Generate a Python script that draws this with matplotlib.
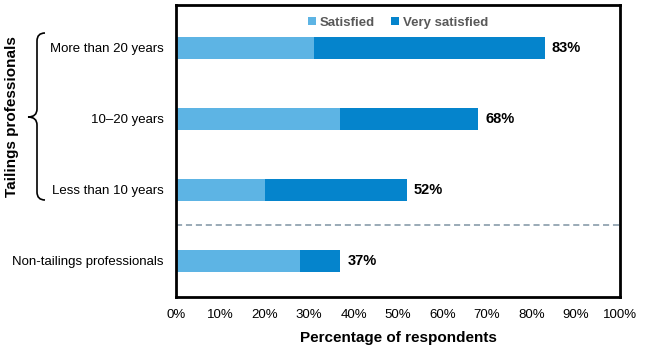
import matplotlib
matplotlib.use('Agg')
import matplotlib.pyplot as plt
from matplotlib.path import Path
from matplotlib.patches import PathPatch
from matplotlib.ticker import PercentFormatter

plt.rcParams['font.family'] = ['Liberation Sans', 'DejaVu Sans']

# data
groups = ['More than 20 years', '10\u201320 years', 'Less than 10 years', 'Non-tailings professionals']
satisfied = [31, 37, 20, 28]
very_satisfied = [52, 31, 32, 9]
totals = [83, 68, 52, 37]

light = '#5db4e4'
dark = '#0584cc'

W, H = 650, 355
fig = plt.figure(figsize=(6.5, 3.55), dpi=100)
ax = fig.add_axes([176 / W, 1 - 297 / H, (620 - 176) / W, (297 - 5) / H])

pos = list(range(len(groups)))
ax.barh(pos, satisfied, height=0.31, color=light, label='Satisfied')
ax.barh(pos, very_satisfied, left=satisfied, height=0.31, color=dark, label='Very satisfied')

for p, t in zip(pos, totals):
    ax.text(t + 1.6, p, f'{t}%', va='center', ha='left', fontsize=10.5, fontweight='bold')

ax.axhline(2.5, color='#7f93a3', lw=1.1, ls=(0, (4, 2.5)))

ax.set_xlim(0, 100)
ax.set_ylim(3.51, -0.6)
ax.set_xticks(range(0, 101, 10))
ax.xaxis.set_major_formatter(PercentFormatter(decimals=0))
ax.set_yticks(pos)
ax.set_yticklabels(groups)
ax.tick_params(length=0, labelsize=9.5, pad=9)
ax.tick_params(axis='x', pad=9)
for s in ax.spines.values():
    s.set_linewidth(2)
ax.set_xlabel('Percentage of respondents', fontsize=11, fontweight='bold', labelpad=7)

leg = ax.legend(loc='upper center', ncol=2, frameon=False, handlelength=0.6,
                handleheight=0.6, handletextpad=0.3, columnspacing=1.2, bbox_to_anchor=(0.5, 1.0),
                prop={'size': 9.5, 'weight': 'bold'})
for t in leg.get_texts():
    t.set_color('#595959')

# brace for the tailings group, drawn in pixel coords
def px(x, y):
    return (x / W, 1 - y / H)

verts = [px(45, 33), px(37, 33), px(37, 41), px(37, 109), px(37, 117), px(28, 117),
         px(37, 117), px(37, 125), px(37, 192), px(37, 200), px(45, 200)]
codes = [Path.MOVETO, Path.CURVE3, Path.CURVE3, Path.LINETO, Path.CURVE3, Path.CURVE3,
         Path.CURVE3, Path.CURVE3, Path.LINETO, Path.CURVE3, Path.CURVE3]
fig.patches.append(PathPatch(Path(verts, codes), transform=fig.transFigure,
                             fill=False, lw=1.2, color='black'))
fig.text(12 / W, 1 - 117 / H, 'Tailings professionals', rotation=90, ha='center', va='center',
         fontsize=11, fontweight='bold')

fig.savefig('out.png', dpi=100)
